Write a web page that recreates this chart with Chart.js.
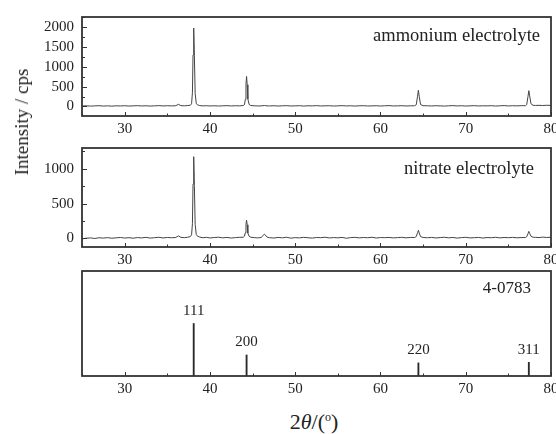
<!DOCTYPE html>
<html>
<head>
<meta charset="utf-8">
<script src="https://cdn.jsdelivr.net/npm/chart.js@4.4.1/dist/chart.umd.min.js"></script>
<style>
  body { margin: 0; background: #fff; }
  #wrap { position: relative; width: 556px; height: 434px; overflow: hidden; font-family: 'Liberation Serif', serif; color: #222; }
  .panel { position: absolute; left: 0; }
  #ytitle { position: absolute; left: 22px; top: 122px; transform: translate(-50%, -50%) rotate(-90deg); font-size: 19px; white-space: nowrap; }
  #xtitle { position: absolute; left: 314px; top: 422px; transform: translate(-50%, -50%); font-size: 22px; white-space: nowrap; }
  #xtitle sup { font-size: 12px; }
</style>
</head>
<body>
<div id="wrap">
  <canvas id="amm" class="panel" style="top:0px" width="566" height="134"></canvas>
  <canvas id="nit" class="panel" style="top:131px" width="566" height="134"></canvas>
  <canvas id="ref" class="panel" style="top:261px" width="566" height="133"></canvas>
  <div id="ytitle">Intensity / cps</div>
  <div id="xtitle">2<i>θ</i>/(<sup>o</sup>)</div>
</div>
<script>
// 2theta grid (deg), shared by both measured patterns
const twoTheta = [
  25, 25.5, 26, 26.5, 27, 27.5, 28, 28.5, 29, 29.5, 30, 30.5, 31, 31.5, 32, 32.5, 33, 33.5, 34, 34.5, 35, 35.5,
  36, 36.3, 36.6, 37, 37.4,
  37.7, 37.85, 37.95, 38.02, 38.1, 38.18, 38.27, 38.4, 38.55,
  38.8, 39.2, 39.6, 40, 40.5, 41, 41.5, 42, 42.5, 43, 43.5,
  43.9, 44.05, 44.15, 44.23, 44.3, 44.37, 44.45, 44.6, 44.8,
  45.2, 45.6, 46, 46.4, 46.7,
  47, 47.5, 48, 48.5, 49, 49.5, 50, 50.5, 51, 51.5, 52, 52.5, 53, 53.5, 54, 54.5, 55,
  55.5, 56, 56.5, 57, 57.5, 58, 58.5, 59, 59.5, 60, 60.5, 61, 61.5, 62, 62.5, 63, 63.5,
  64, 64.2, 64.35, 64.45, 64.55, 64.7, 65,
  65.5, 66, 66.5, 67, 67.5, 68, 68.5, 69, 69.5, 70, 70.5, 71, 71.5, 72, 72.5, 73, 73.5, 74, 74.5, 75, 75.5, 76, 76.5,
  77, 77.15, 77.3, 77.4, 77.5, 77.65, 77.9,
  78.2, 78.6, 79, 79.5, 80
];

// ammonium electrolyte, counts per second
const ammonium = [
  12, 18, 10, 15, 20, 11, 16, 9, 17, 14, 19, 12, 15, 21, 13, 18, 11, 16, 22, 14, 19, 15,
  20, 55, 22, 17, 24,
  30, 70, 350, 1300, 1980, 1280, 330, 80, 40,
  22, 16, 20, 13, 18, 12, 17, 21, 14, 19, 16,
  25, 45, 180, 560, 760, 550, 190, 50, 25,
  18, 14, 15, 25, 16,
  14, 19, 12, 17, 21, 13, 16, 20, 11, 18, 15, 22, 13, 17, 19, 12, 16,
  21, 14, 18, 11, 17, 20, 13, 15, 19, 12, 18, 22, 14, 16, 20, 13, 17,
  18, 45, 260, 410, 250, 50, 20,
  18, 13, 20, 15, 11, 17, 22, 14, 19, 12, 16, 21, 13, 18, 15, 20, 12, 17, 23, 14, 19, 16, 21,
  20, 45, 250, 400, 270, 70, 30,
  26, 30, 24, 31, 27
];

// nitrate electrolyte, counts per second
const nitrate = [
  -8, 2, 6, -2, 8, 3, 10, 1, 7, 12, 4, 9, 2, 11, 6, 14, 3, 9, 15, 5, 12, 8,
  12, 35, 14, 9, 16,
  25, 50, 210, 780, 1175, 760, 200, 55, 30,
  18, 8, 14, 5, 11, 16, 7, 13, 4, 10, 15,
  15, 30, 80, 200, 260, 195, 75, 30, 15,
  10, 6, 12, 60, 18,
  9, 4, 13, 7, 15, 2, 10, 6, 14, 8, 3, 12, 9, 16, 5, 11, 7,
  13, 1, 10, 14, 6, 12, 8, 15, 4, 11, 9, 13, 6, 10, 14, 7, 12,
  12, 25, 80, 115, 75, 25, 12,
  8, 13, 5, 11, 15, 7, 12, 3, 10, 14, 6, 9, 13, 4, 11, 8, 15, 6, 12, 9, 14, 7, 11,
  12, 22, 65, 100, 70, 30, 15,
  14, 10, 17, 12, 15
];

// y tick marks (labels only on multiples of 500)
const ammTicks = [0, 250, 500, 750, 1000, 1250, 1500, 1750, 2000, 2250];
const nitTicks = [0, 250, 500, 750, 1000, 1250];

// reference card 4-0783 (Ag)
const refTheta = [38.1, 44.3, 64.45, 77.4];
const refIntensity = [100, 40, 25, 26];
const refHkl = ['111', '200', '220', '311'];

Chart.defaults.font.family = "'Liberation Serif', serif";
Chart.defaults.font.size = 15;
Chart.defaults.color = '#222';

// box round the plot area plus inward tick marks
const framePlugin = {
  id: 'frame',
  afterDraw(chart, args, opts) {
    const c = chart.ctx, a = chart.chartArea;
    c.save();
    c.strokeStyle = '#333';
    c.lineWidth = 1;
    const xs = chart.scales.x;
    xs.ticks.forEach(t => {
      const px = Math.round(xs.getPixelForValue(t.value)) + 0.5;
      const len = t.value % 10 === 0 ? 4 : 2.5;
      c.beginPath(); c.moveTo(px, a.bottom); c.lineTo(px, a.bottom - len); c.stroke();
    });
    const ys = chart.scales.y;
    if (opts.yTicks) {
      ys.ticks.forEach(t => {
        const py = Math.round(ys.getPixelForValue(t.value)) + 0.5;
        const len = t.value % 500 === 0 ? 5 : 3;
        c.beginPath(); c.moveTo(a.left, py); c.lineTo(a.left + len, py); c.stroke();
      });
    }
    c.lineWidth = 1.8;
    c.strokeRect(a.left, a.top, a.right - a.left, a.bottom - a.top);
    if (opts.label) {
      c.fillStyle = '#222';
      c.font = opts.labelSize + "px 'Liberation Serif', serif";
      c.textAlign = 'right';
      c.textBaseline = 'middle';
      c.fillText(opts.label, a.right - opts.labelRight, a.top + opts.labelTop);
    }
    c.restore();
  }
};

// hkl labels above reference sticks
const hklPlugin = {
  id: 'hkl',
  afterDatasetsDraw(chart) {
    const c = chart.ctx;
    const meta = chart.getDatasetMeta(0);
    c.save();
    c.fillStyle = '#222';
    c.font = "15px 'Liberation Serif', serif";
    c.textAlign = 'center';
    c.textBaseline = 'bottom';
    meta.data.forEach((el, i) => {
      c.fillText(refHkl[i], el.x, el.y - 5);
    });
    c.restore();
  }
};

function xAxis() {
  return {
    type: 'linear', min: 25, max: 80, offset: false,
    grid: { display: false, drawTicks: false, offset: false },
    border: { display: false },
    ticks: {
      stepSize: 5, includeBounds: false, padding: 4, maxRotation: 0, autoSkip: false,
      callback: v => (v % 10 === 0 ? String(v) : '')
    },
    afterFit(s) { s.height = 18; }
  };
}

function yAxis(min, max, tickList) {
  return {
    min: min, max: max,
    grid: { display: false, drawTicks: false },
    border: { display: false },
    ticks: {
      padding: 8, autoSkip: false,
      callback: v => (v % 500 === 0 ? String(v) : '')
    },
    afterBuildTicks(s) { s.ticks = tickList.map(v => ({ value: v })); },
    afterFit(s) { s.width = 82; }
  };
}

function patternChart(id, values, yMin, yMax, tickList, label, labelRight, labelTop) {
  return new Chart(document.getElementById(id), {
    type: 'line',
    data: {
      datasets: [{
        data: twoTheta.map((t, i) => ({ x: t, y: values[i] })),
        borderColor: '#444',
        borderWidth: 1,
        borderJoinStyle: 'round',
        pointRadius: 0,
        tension: 0
      }]
    },
    options: {
      responsive: false,
      animation: false,
      events: [],
      layout: { padding: { left: 0, right: 15, top: 10, bottom: 0 } },
      plugins: {
        legend: { display: false },
        tooltip: { enabled: false },
        frame: { yTicks: true, label: label, labelRight: labelRight, labelTop: labelTop, labelSize: 18.5 }
      },
      scales: { x: xAxis(), y: yAxis(yMin, yMax, tickList) }
    },
    plugins: [framePlugin]
  });
}

patternChart('amm', ammonium, -240, 2260, ammTicks, 'ammonium electrolyte', 11, 19);
patternChart('nit', nitrate, -125, 1300, nitTicks, 'nitrate electrolyte', 17, 21);

new Chart(document.getElementById('ref'), {
  type: 'bar',
  data: {
    datasets: [{
      data: refTheta.map((t, i) => ({ x: t, y: refIntensity[i] })),
      backgroundColor: '#2a2a2a',
      borderWidth: 0,
      barThickness: 1.2
    }]
  },
  options: {
    responsive: false,
    animation: false,
    events: [],
    layout: { padding: { left: 82, right: 15, top: 10, bottom: 0 } },
    plugins: {
      legend: { display: false },
      tooltip: { enabled: false },
      frame: { yTicks: false, label: '4-0783', labelRight: 20, labelTop: 18, labelSize: 17 }
    },
    scales: {
      x: xAxis(),
      y: { display: false, min: 0, max: 200 }
    }
  },
  plugins: [framePlugin, hklPlugin]
});
</script>
</body>
</html>
